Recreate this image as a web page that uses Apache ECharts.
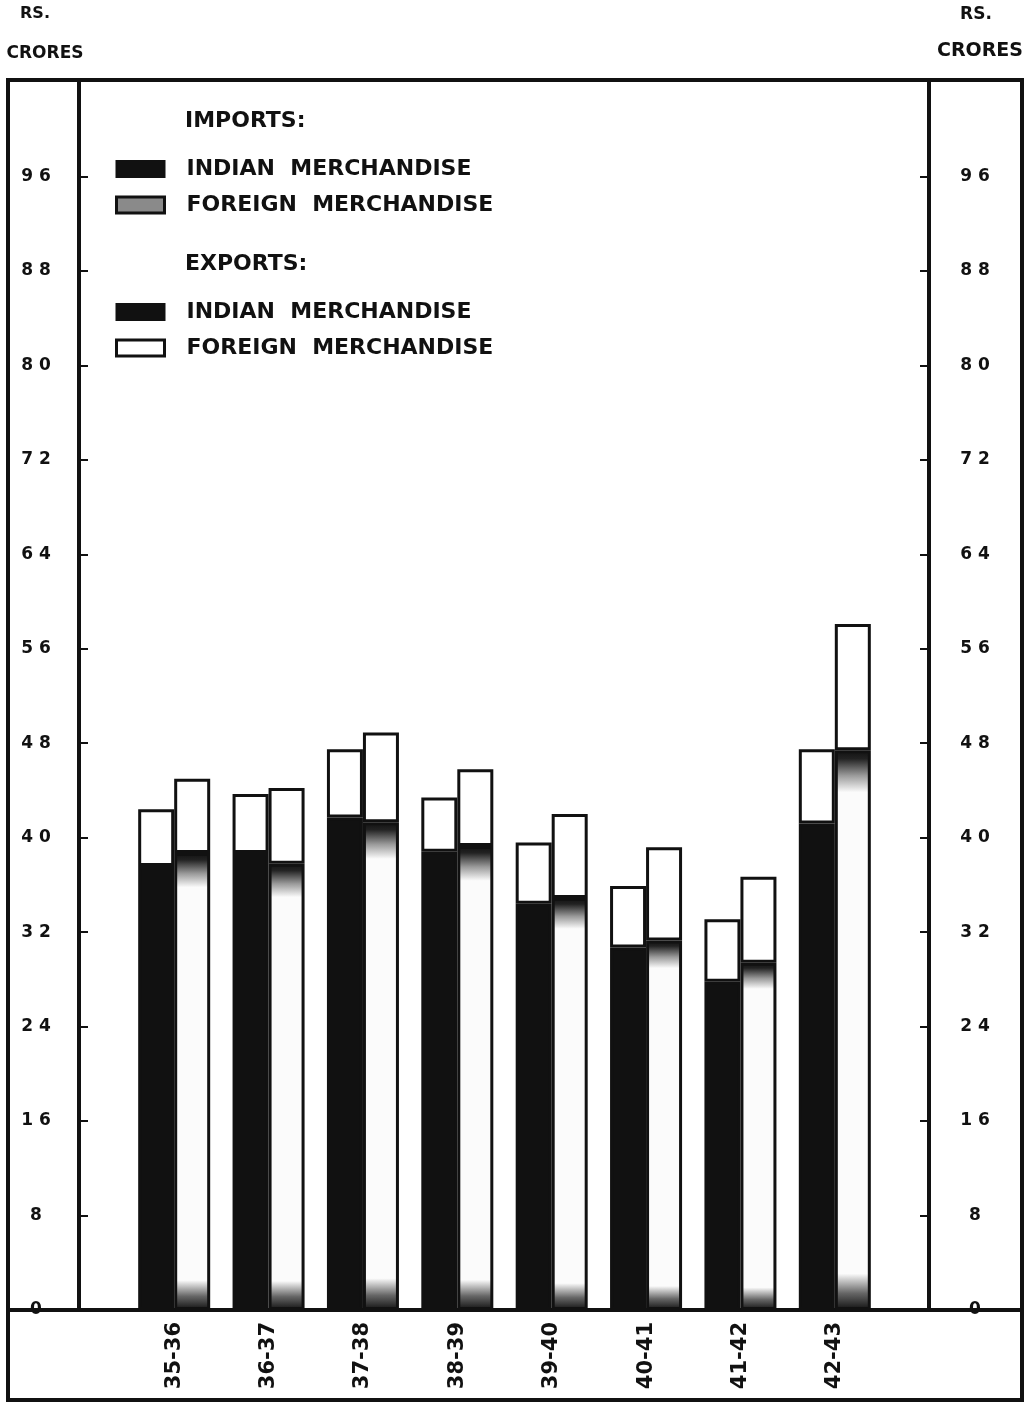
<!DOCTYPE html>
<html>
<head>
<meta charset="utf-8">
<script src="https://cdn.jsdelivr.net/npm/echarts@6/dist/echarts.min.js"></script>
<style>
  html, body { margin: 0; padding: 0; background: #fff; }
  #chart { width: 1036px; height: 1405px; }
</style>
</head>
<body>
<div id="chart"></div>
<script>
// Trade in merchandise, Rs. crores, by year
const years = ['35-36', '36-37', '37-38', '38-39', '39-40', '40-41', '41-42', '42-43'];
const importsIndian  = [37.6, 38.7, 41.7, 38.8, 34.4, 30.7, 27.8, 41.2];
const importsForeign = [4.8, 5.0, 5.8, 4.6, 5.2, 5.2, 5.3, 6.3];
const exportsIndian  = [38.7, 37.8, 41.3, 39.3, 34.9, 31.3, 29.4, 47.4];
const exportsForeign = [6.3, 6.4, 7.6, 6.5, 7.1, 7.9, 7.3, 10.7];
const yTickValues = [0, 8, 16, 24, 32, 40, 48, 56, 64, 72, 80, 88, 96];

const ink = '#111';
const font = '"DejaVu Sans", "Noto Sans", sans-serif';

// printed black that has washed out in the middle of the bar
const washedInk = {
  type: 'linear', x: 0, y: 0, x2: 0, y2: 1,
  colorStops: [
    { offset: 0, color: '#111' },
    { offset: 0.015, color: '#222' },
    { offset: 0.045, color: '#9a9a9a' },
    { offset: 0.075, color: '#fbfbfb' },
    { offset: 0.935, color: '#fbfbfb' },
    { offset: 0.97, color: '#666' },
    { offset: 1, color: '#111' }
  ]
};

const spaced = v => String(v).split('').join(' ');

const yAxisBase = {
  type: 'value', min: 0, max: 104, interval: 8,
  splitLine: { show: false },
  axisLine: { show: true, lineStyle: { color: ink, width: 4 } },
  axisTick: { show: true, inside: true, length: 9, lineStyle: { color: ink, width: 2 }, customValues: yTickValues },
  axisLabel: {
    customValues: yTickValues, formatter: spaced, align: 'center',
    color: ink, fontFamily: font, fontWeight: 'bold', fontSize: 17, padding: [0, 0, 8, 0]
  }
};

const legendText = { color: ink, fontFamily: font, fontWeight: 'bold', fontSize: 22, lineHeight: 20, padding: [0, 0, 0, 17] };
const names = {
  impIn: 'INDIAN  MERCHANDISE', impFo: 'FOREIGN  MERCHANDISE',
  expIn: 'INDIAN  MERCHANDISE', expFo: 'FOREIGN  MERCHANDISE'
};
const legendBase = {
  orient: 'vertical', left: 115, padding: 0, itemWidth: 48, itemHeight: 16, itemGap: 14,
  icon: 'rect', selectedMode: false, textStyle: legendText,
  formatter: n => names[n]
};

const chart = echarts.init(document.getElementById('chart'), null, { renderer: 'canvas' });
chart.setOption({
  backgroundColor: '#fff',
  animation: false,
  grid: { left: 127, right: 154, top: 82, bottom: 95 },
  xAxis: {
    type: 'category', data: years,
    axisLine: { show: false }, axisTick: { show: false },
    axisLabel: { rotate: 90, margin: 12, color: ink, fontFamily: font, fontWeight: 'bold', fontSize: 21 }
  },
  yAxis: [
    Object.assign({}, yAxisBase, { position: 'left', offset: 48, axisLabel: Object.assign({}, yAxisBase.axisLabel, { margin: 43 }) }),
    Object.assign({}, yAxisBase, { position: 'right', offset: 47, axisLabel: Object.assign({}, yAxisBase.axisLabel, { margin: 46 }) })
  ],
  legend: [
    Object.assign({}, legendBase, {
      top: 158,
      data: [
        { name: 'impIn', itemStyle: { color: ink, borderColor: ink, borderWidth: 2 } },
        { name: 'impFo', itemStyle: { color: '#8a8a8a', borderColor: ink, borderWidth: 3 } }
      ]
    }),
    Object.assign({}, legendBase, {
      top: 301,
      data: [
        { name: 'expIn', itemStyle: { color: ink, borderColor: ink, borderWidth: 2 } },
        { name: 'expFo', itemStyle: { color: '#fff', borderColor: ink, borderWidth: 3 } }
      ]
    })
  ],
  graphic: [
    { type: 'rect', shape: { x: 8, y: 80, width: 1014, height: 1320 }, style: { fill: 'none', stroke: ink, lineWidth: 4 }, z: 1 },
    { type: 'line', shape: { x1: 8, y1: 1310, x2: 1022, y2: 1310 }, style: { stroke: ink, lineWidth: 4 }, z: 1 },
    { type: 'text', x: 35, y: 14, style: { text: 'RS.', fill: ink, font: 'bold 16px ' + font, align: 'center', verticalAlign: 'middle' } },
    { type: 'text', x: 45, y: 54, style: { text: 'CRORES', fill: ink, font: 'bold 17px ' + font, align: 'center', verticalAlign: 'middle' } },
    { type: 'text', x: 976, y: 15, style: { text: 'RS.', fill: ink, font: 'bold 17px ' + font, align: 'center', verticalAlign: 'middle' } },
    { type: 'text', x: 980, y: 51, style: { text: 'CRORES', fill: ink, font: 'bold 19px ' + font, align: 'center', verticalAlign: 'middle' } },
    { type: 'text', x: 185, y: 121, style: { text: 'IMPORTS:', fill: ink, font: 'bold 22px ' + font, align: 'left', verticalAlign: 'middle' } },
    { type: 'text', x: 185, y: 264, style: { text: 'EXPORTS:', fill: ink, font: 'bold 22px ' + font, align: 'left', verticalAlign: 'middle' } }
  ],
  series: [
    { name: 'impIn', type: 'bar', stack: 'imp', data: importsIndian, barWidth: 36, barGap: '0%',
      itemStyle: { color: ink, borderColor: ink, borderWidth: 3 } },
    { name: 'impFo', type: 'bar', stack: 'imp', data: importsForeign, barWidth: 36, barGap: '0%',
      itemStyle: { color: '#fff', borderColor: ink, borderWidth: 3 } },
    { name: 'expIn', type: 'bar', stack: 'exp', data: exportsIndian, barWidth: 36, barGap: '0%',
      itemStyle: { color: washedInk, borderColor: ink, borderWidth: 3 } },
    { name: 'expFo', type: 'bar', stack: 'exp', data: exportsForeign, barWidth: 36, barGap: '0%',
      itemStyle: { color: '#fff', borderColor: ink, borderWidth: 3 } }
  ]
});
</script>
</body>
</html>
